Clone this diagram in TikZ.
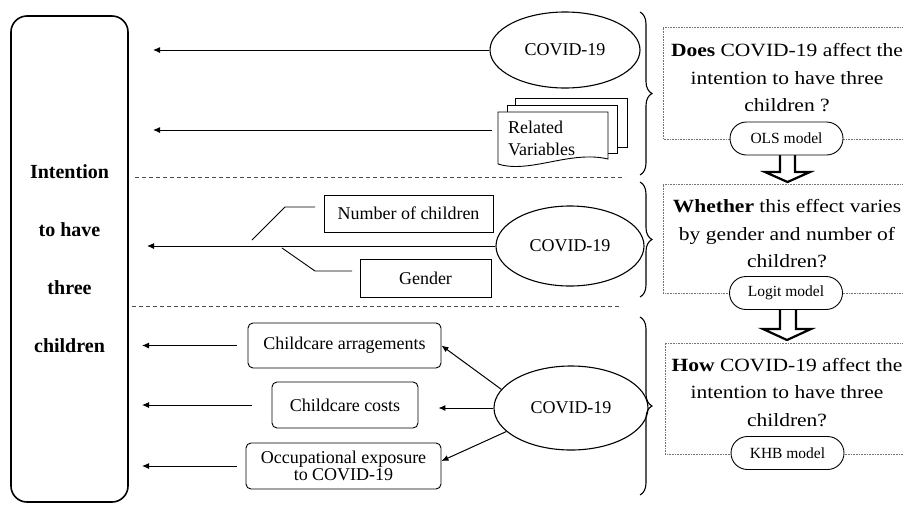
\documentclass[tikz,border=0pt]{standalone}
\usepackage{fontspec}
\setmainfont{Liberation Serif}
\newfontfamily\rtfont[FakeStretch=1.15]{Liberation Serif}
\usetikzlibrary{shapes.geometric,shapes.misc,arrows.meta,decorations.pathreplacing}
\begin{document}
\begin{tikzpicture}[x=1pt,y=-1pt,
  lbox/.style={draw, rounded corners=16pt, line width=1.6pt, minimum width=117pt, minimum height=486pt, inner sep=0pt, align=center, font=\bfseries\fontsize{20}{58}\selectfont},
  ell/.style={draw, ellipse, line width=1.1pt, inner sep=0pt, font=\fontsize{18}{20}\selectfont},
  sbox/.style={draw, line width=0.9pt, inner sep=0pt, font=\fontsize{18}{20}\selectfont},
  rbox/.style={sbox, rounded corners=5pt},
  arr/.style={-{Latex[length=7pt,width=6pt]}, line width=1pt},
  sep/.style={dash pattern=on 4pt off 3pt, line width=0.8pt, black!70},
  qbox/.style={dash pattern=on 0.8pt off 0.8pt, line width=0.8pt, black!55},
  qtext/.style={align=center, font=\rtfont\fontsize{18.7}{27.5}\selectfont, inner sep=0pt},
  pill/.style={draw, rounded rectangle, fill=white, line width=0.9pt, minimum width=113pt, minimum height=33pt, inner sep=0pt, font=\fontsize{15.5}{17}\selectfont},
  barrow/.style={draw, fill=white, line width=2.2pt, line join=miter},
  brc/.style={decorate, decoration={brace, amplitude=12pt}, line width=1.1pt},
  docline/.style={draw, fill=white, line width=0.9pt}
]
\useasboundingbox (0,0) rectangle (903,504);

% left box
\node[lbox] (lb) at (69.5,259) {Intention\\to have\\three\\children};

% ellipses
\node[ell, minimum width=150pt, minimum height=76pt] (e1) at (565,50) {COVID-19};
\node[ell, minimum width=148pt, minimum height=80pt] (e2) at (570,246) {COVID-19};
\node[ell, minimum width=154pt, minimum height=84pt] (e3) at (571,408) {COVID-19};

% related variables (multi-document)
\draw[docline] (515,98) rectangle (627,147);
\draw[docline] (507,105) rectangle (617,153);
\draw[docline] (498,112) -- (608,112) -- (608,159) .. controls (570,150) and (530,174) .. (498,164) -- cycle;
\node[anchor=west, align=left, inner sep=0pt, font=\fontsize{18}{22}\selectfont] (rv) at (508,138) {Related\\Variables};

% top arrows
\coordinate (t1) at (153,49);
\coordinate (rvs) at (492,130);
\coordinate (t2) at (153,130);
\draw[arr] (e1.west) -- (e1.west -| t1);
\draw[arr] (rvs) -- (t2);

% separators
\draw[sep] (135,177) -- (625,177);
\draw[sep] (132,306) -- (620,306);

% middle section
\node[sbox, minimum width=169pt, minimum height=37pt] (nc) at (408.5,213.5) {Number of children};
\node[sbox, minimum width=131pt, minimum height=38pt] (gd) at (425.5,278) {Gender};
\coordinate (t3) at (147,246);
\draw[arr] (e2.west) -- (e2.west -| t3);
\coordinate (n1) at (252,240);
\coordinate (n2) at (285,207);
\coordinate (n3) at (315,207);
\draw[line width=0.9pt] (n1) -- (n2) -- (n3);
\coordinate (g1) at (282,248);
\coordinate (g2) at (315,271);
\coordinate (g3) at (352,271);
\draw[line width=0.9pt] (g1) -- (g2) -- (g3);

% bottom section
\node[rbox, minimum width=193pt, minimum height=45pt] (ca) at (344.5,345.5) {Childcare arragements};
\node[rbox, minimum width=146pt, minimum height=46pt] (cc) at (345,405) {Childcare costs};
\node[rbox, minimum width=195pt, minimum height=46pt, align=center, font=\fontsize{18}{16.5}\selectfont] (oc) at (343.5,466) {Occupational exposure\\to COVID-19};
\coordinate (tb) at (142,0);
\draw[arr, shorten <=11pt] (ca.west) -- (ca.west -| tb);
\draw[arr, shorten <=20pt] (cc.west) -- (cc.west -| tb);
\draw[arr, shorten <=9pt] (oc.west) -- (oc.west -| tb);
\draw[arr] (e3.165) -- (ca.east);
\draw[arr, shorten >=20pt] (e3.west) -- (cc.east |- e3.west);
\draw[arr] (e3.200) -- ([yshift=5pt]oc.east);

% braces
\draw[brc] (640,12) -- (640,175);
\draw[brc] (640,182) -- (640,297);
\draw[brc] (640,317) -- (640,495);

% right boxes
\draw[qbox] (904,27) -| (663,139) -- (904,139);
\draw[qbox] (904,184) -| (663,293) -- (904,293);
\draw[qbox] (904,343) -| (665,454) -- (904,454);

\node[qtext] (q1) at (787,78) {\textbf{Does} COVID-19 affect the\\intention to have three\\children ?};
\node[qtext] (q2) at (787,234) {\textbf{Whether} this effect varies\\by gender and number of\\children?};
\node[qtext] (q3) at (787,392.5) {\textbf{How} COVID-19 affect the\\intention to have three\\children?};

% block arrows
\draw[barrow] (780,150) -- (780,172) -- (765,172) -- (787.5,182) -- (810,172) -- (795,172) -- (795,150) -- cycle;
\draw[barrow] (780,305) -- (780,329) -- (763,329) -- (787,340) -- (811,329) -- (796,329) -- (796,305) -- cycle;

% model pills
\node[pill] (m1) at (786.5,138.5) {OLS model};
\node[pill] (m2) at (786,293) {Logit model};
\node[pill] (m3) at (787.5,453) {KHB model};
\end{tikzpicture}
\end{document}
